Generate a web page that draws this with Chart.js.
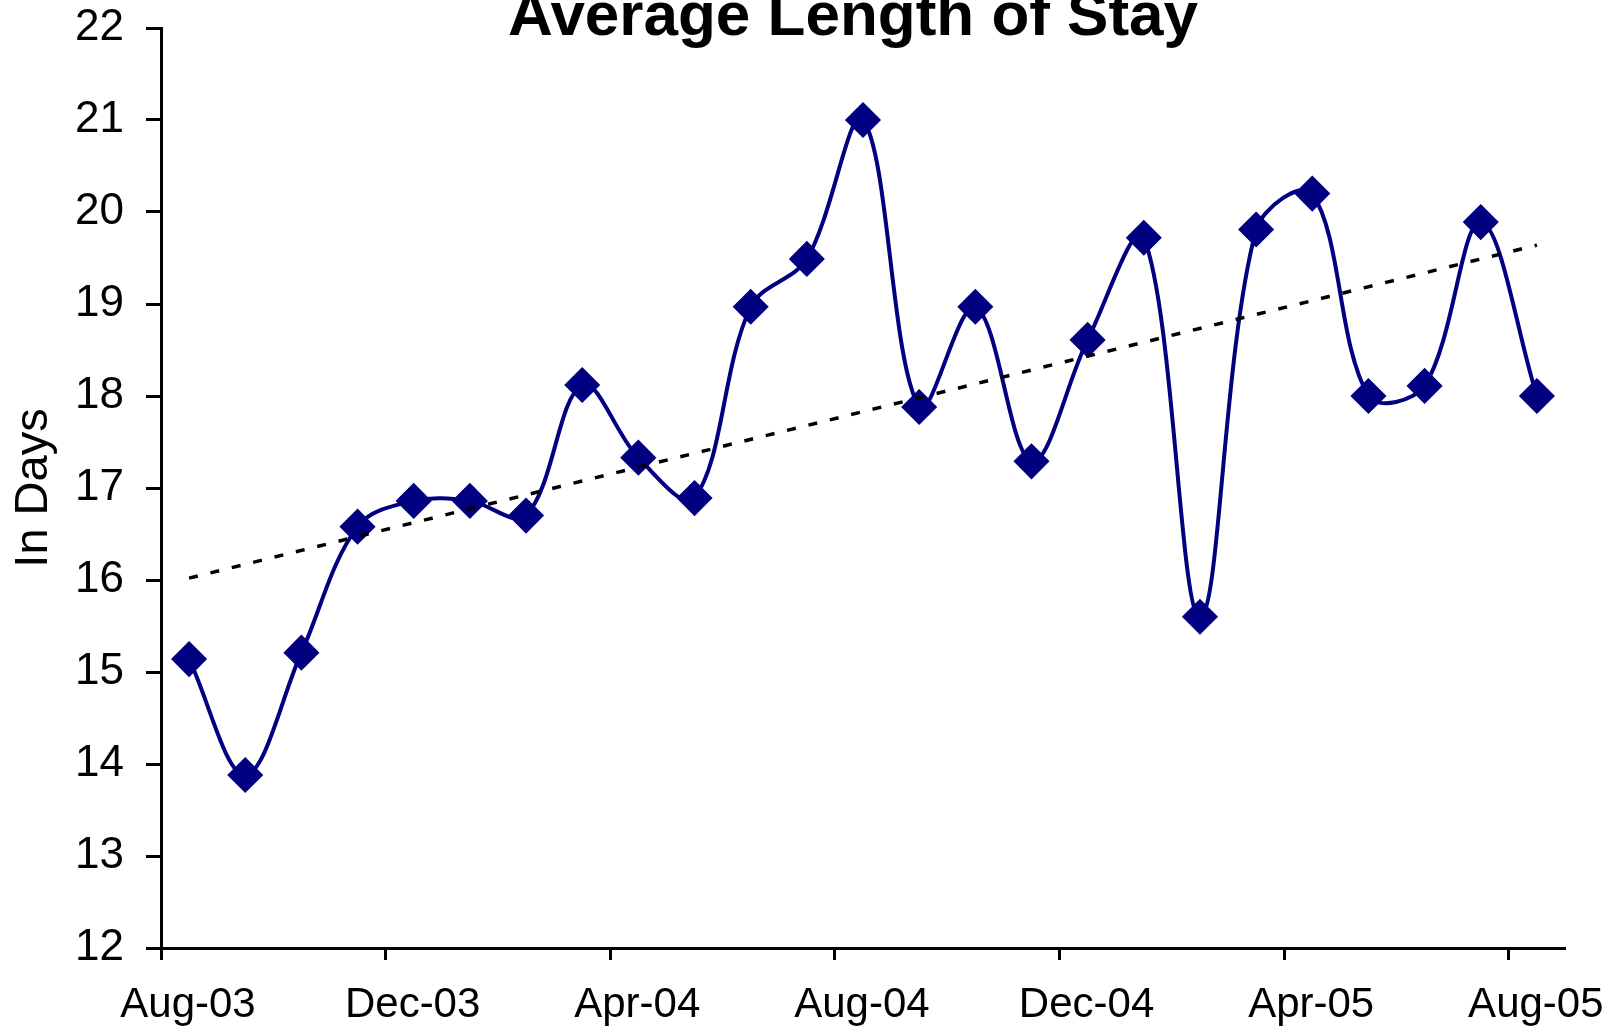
<!DOCTYPE html>
<html lang="en">

<head>
    <meta charset="UTF-8">
    <title>Average Length of Stay</title>
    <style>
        body { margin: 0; background: #fff; }
        #wrap { width: 1624px; height: 1032px; }
    </style>
</head>

<body>
    <div id="wrap">
        <canvas id="mychart" width="1624" height="1032"></canvas>
    </div>

    <script src="https://cdn.jsdelivr.net/npm/chart.js"></script>
    <script>
        // monthly values, Aug-03 .. Aug-05
        var months = ['Aug-03', 'Sep-03', 'Oct-03', 'Nov-03', 'Dec-03', 'Jan-04', 'Feb-04', 'Mar-04', 'Apr-04',
            'May-04', 'Jun-04', 'Jul-04', 'Aug-04', 'Sep-04', 'Oct-04', 'Nov-04', 'Dec-04', 'Jan-05', 'Feb-05',
            'Mar-05', 'Apr-05', 'May-05', 'Jun-05', 'Jul-05', 'Aug-05'];
        var stayDays = [15.14, 13.88, 15.21, 16.58, 16.86, 16.86, 16.70, 18.12, 17.33, 16.89, 18.97, 19.49, 21.0,
            17.88, 18.97, 17.29, 18.61, 19.72, 15.60, 19.81, 20.20, 18.0, 18.11, 19.89, 18.0];
        // linear trend, read at first and last month
        var trendEnds = [16.02, 19.64];
        var tickLabels = ['Aug-03', 'Dec-03', 'Apr-04', 'Aug-04', 'Dec-04', 'Apr-05', 'Aug-05'];
        var tickMonths = [0, 4, 8, 12, 16, 20, 24];
        var chartTitle = 'Average Length of Stay';

        Chart.defaults.font.family = "'Liberation Sans', Arial, sans-serif";
        Chart.defaults.color = '#000';

        // points sit mid-month on the date axis
        var losPoints = stayDays.map(function (v, i) {
            return { x: i + 0.5, y: v };
        });
        var trendPoints = [
            { x: 0.5, y: trendEnds[0] },
            { x: months.length - 0.5, y: trendEnds[1] }
        ];

        var titlePlugin = {
            id: 'topTitle',
            afterDraw: function (chart) {
                var ctx = chart.ctx;
                ctx.save();
                ctx.font = "bold 62px 'Liberation Sans', Arial, sans-serif";
                ctx.fillStyle = '#000';
                ctx.textAlign = 'center';
                ctx.textBaseline = 'alphabetic';
                ctx.fillText(chartTitle, 853, 35);
                ctx.restore();
            }
        };

        const ctx = document.getElementById('mychart');

        var mychart = new Chart(ctx, {
            type: 'line',
            data: {
                datasets: [{
                    label: 'Trend',
                    data: trendPoints,
                    borderColor: '#000',
                    borderWidth: 3.5,
                    borderDash: [9, 13],
                    pointRadius: 0,
                    tension: 0,
                    order: 0
                }, {
                    label: 'In Days',
                    data: losPoints,
                    borderColor: '#000080',
                    backgroundColor: '#000080',
                    borderWidth: 4,
                    pointStyle: 'rectRot',
                    pointRadius: 17,
                    pointBorderWidth: 1.5,
                    tension: 0.35,
                    order: 1
                }]
            },
            options: {
                responsive: false,
                animation: false,
                layout: {
                    padding: { top: 28, right: 59, bottom: 0, left: 0 }
                },
                plugins: {
                    legend: { display: false },
                    tooltip: { enabled: false }
                },
                scales: {
                    x: {
                        type: 'linear',
                        min: 0,
                        max: 25,
                        afterBuildTicks: function (scale) {
                            scale.ticks = tickMonths.map(function (m) { return { value: m }; });
                        },
                        afterFit: function (scale) { scale.height = 84; },
                        ticks: {
                            font: { size: 42 },
                            padding: 20,
                            labelOffset: 27,
                            maxRotation: 0,
                            autoSkip: false,
                            callback: function (value) {
                                return tickLabels[tickMonths.indexOf(value)];
                            }
                        },
                        grid: {
                            drawOnChartArea: false,
                            tickLength: 12,
                            tickWidth: 3,
                            tickColor: '#000'
                        },
                        border: { color: '#000', width: 3 }
                    },
                    y: {
                        min: 12,
                        max: 22,
                        afterFit: function (scale) {
                            scale.width = 161;
                            scale.paddingTop = 0;
                            scale.paddingBottom = 0;
                        },
                        ticks: {
                            stepSize: 1,
                            font: { size: 44 },
                            padding: 22
                        },
                        title: {
                            display: true,
                            text: 'In Days',
                            font: { size: 47 },
                            padding: { top: 6, bottom: 0 }
                        },
                        grid: {
                            drawOnChartArea: false,
                            tickLength: 15,
                            tickWidth: 3,
                            tickColor: '#000'
                        },
                        border: { color: '#000', width: 3 }
                    }
                }
            },
            plugins: [titlePlugin]
        });
    </script>
</body>

</html>
